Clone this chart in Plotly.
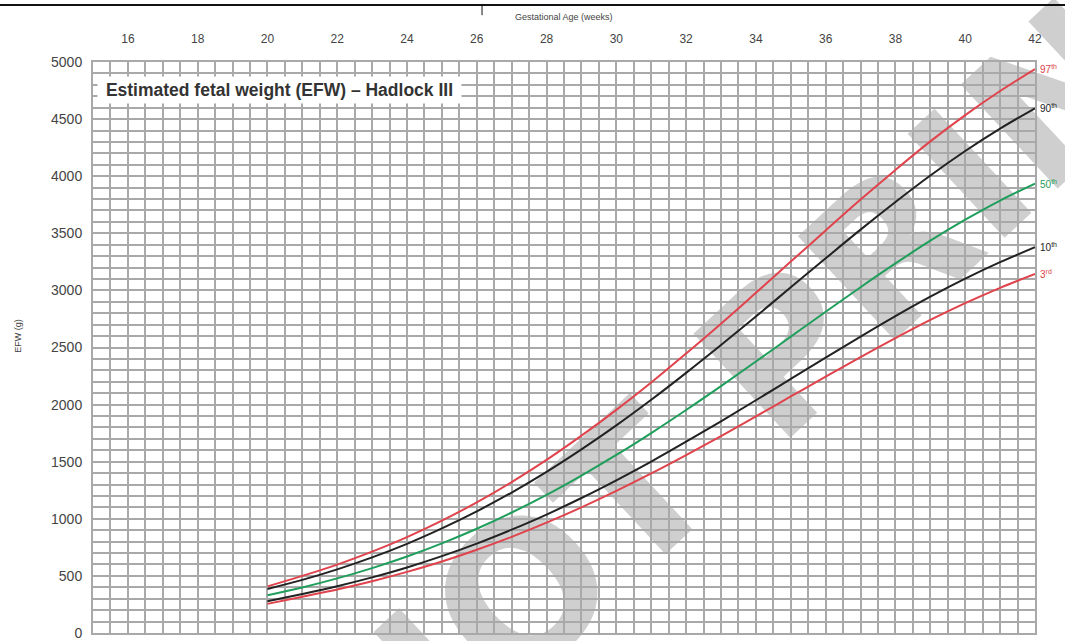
import plotly.graph_objects as go

weeks = [20, 21, 22, 23, 24, 25, 26, 27, 28, 29, 30, 31, 32, 33, 34, 35, 36, 37, 38, 39, 40, 41, 42]
p3 = [255, 318, 381, 453, 535, 626, 729, 842, 966, 1100, 1244, 1397, 1558, 1725, 1897, 2071, 2245, 2416, 2582, 2741, 2888, 3022, 3144]
p10 = [278, 342, 410, 487, 574, 673, 783, 905, 1037, 1182, 1337, 1501, 1675, 1854, 2038, 2225, 2412, 2596, 2775, 2945, 3103, 3247, 3378]
p50 = [331, 399, 478, 568, 670, 785, 913, 1055, 1210, 1379, 1559, 1751, 1953, 2162, 2377, 2595, 2813, 3028, 3236, 3435, 3619, 3787, 3935]
p90 = [386, 465, 557, 662, 781, 916, 1065, 1230, 1411, 1608, 1818, 2042, 2278, 2522, 2772, 3027, 3281, 3532, 3774, 4006, 4221, 4417, 4595]
p97 = [408, 500, 599, 712, 840, 984, 1144, 1322, 1516, 1728, 1954, 2194, 2448, 2709, 2979, 3252, 3525, 3795, 4055, 4305, 4535, 4746, 4938]

series = [
    ("3<sup>rd</sup>", p3, "#e0434c"),
    ("10<sup>th</sup>", p10, "#222222"),
    ("50<sup>th</sup>", p50, "#1f9e5c"),
    ("90<sup>th</sup>", p90, "#222222"),
    ("97<sup>th</sup>", p97, "#e0434c"),
]

x_ticks = list(range(16, 43, 2))
y_ticks = list(range(0, 5001, 500))

fig = go.Figure()
for name, vals, col in series:
    fig.add_trace(go.Scatter(x=weeks, y=vals, mode="lines", name=name,
                             line=dict(color=col, width=2, shape="spline"),
                             showlegend=False, hoverinfo="skip"))

annotations = []
for name, vals, col in series:
    annotations.append(dict(x=weeks[-1], y=vals[-1], xref="x", yref="y", text=name,
                            showarrow=False, xanchor="left", yanchor="middle", xshift=3,
                            font=dict(size=10, color=col, family="Liberation Sans, Arial")))

# title box
annotations.append(dict(x=0.0042, y=4755, xref="paper", yref="y",
                        text="&nbsp;<b>Estimated fetal weight (EFW) – Hadlock III</b>&nbsp;",
                        showarrow=False, xanchor="left", yanchor="middle",
                        bgcolor="white", borderpad=3,
                        font=dict(size=17.5, color="#333333", family="Liberation Sans, Arial")))
# axis titles
annotations.append(dict(x=0.5, y=1.079, xref="paper", yref="paper",
                        text="Gestational Age (weeks)", showarrow=False,
                        xanchor="center", yanchor="middle",
                        font=dict(size=9, color="#444444", family="Liberation Sans, Arial")))
annotations.append(dict(x=-0.08, y=0.52, xref="paper", yref="paper",
                        text="EFW (g)", showarrow=False, textangle=-90,
                        xanchor="center", yanchor="middle",
                        font=dict(size=9, color="#444444", family="Liberation Sans, Arial")))

shapes = [
    # watermark, drawn beneath grid and curves
    dict(type="rect", xref="paper", yref="paper", x0=0.54, x1=0.59, y0=0.245, y1=0.29,
         layer="below", line=dict(width=0), fillcolor="rgba(0,0,0,0)",
         label=dict(text="DO NOT PRINT", textangle=-43, textposition="middle center",
                    font=dict(size=195, color="#cfcfcf", family="DejaVu Sans", weight="bold"))),
    dict(type="line", xref="paper", yref="paper", x0=-0.1, x1=1.04, y0=1.1, y1=1.1,
         line=dict(color="#111111", width=2)),
    dict(type="line", xref="paper", yref="paper", x0=0.413, x1=0.413, y0=1.1, y1=1.082,
         line=dict(color="#111111", width=1)),
]

fig.update_layout(
    width=1065, height=641,
    margin=dict(l=93, r=30, t=62, b=8, pad=0, autoexpand=False),
    paper_bgcolor="white", plot_bgcolor="rgba(0,0,0,0)",
    annotations=annotations, shapes=shapes,
    font=dict(family="Liberation Sans, Arial"),
)
fig.update_xaxes(range=[15, 42], side="top", tickmode="array", tickvals=x_ticks,
                 ticktext=[str(t) for t in x_ticks], automargin=False,
                 tickfont=dict(size=12, color="#444444"), ticklabelstandoff=12,
                 showgrid=True, gridcolor="#a9a9a9", gridwidth=2,
                 minor=dict(dtick=0.5, showgrid=True, gridcolor="#a9a9a9", gridwidth=2),
                 zeroline=False, showline=True, linecolor="#a9a9a9", linewidth=2, mirror=True,
                 fixedrange=True)
fig.update_yaxes(range=[0, 5000], tickmode="array", tickvals=y_ticks,
                 ticktext=[str(t) for t in y_ticks], automargin=False,
                 tickfont=dict(size=14, color="#444444"), ticklabelstandoff=6,
                 showgrid=True, gridcolor="#a9a9a9", gridwidth=2,
                 minor=dict(dtick=100, showgrid=True, gridcolor="#a9a9a9", gridwidth=2),
                 zeroline=False, showline=True, linecolor="#a9a9a9", linewidth=2, mirror=True,
                 fixedrange=True)

fig.write_html("out.html", config={"displayModeBar": False},
               post_script="document.body.style.margin='0';document.body.style.overflow='hidden';")
